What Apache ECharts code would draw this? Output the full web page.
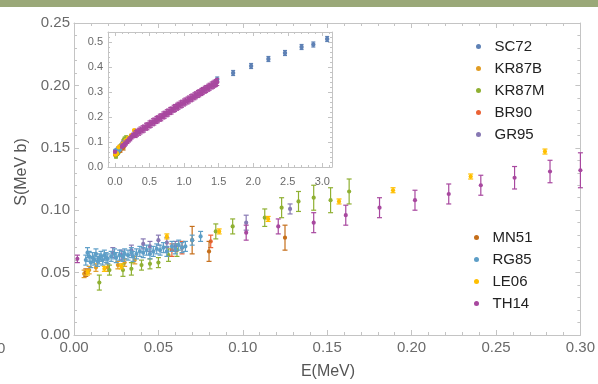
<!DOCTYPE html>
<html><head><meta charset="utf-8">
<script src="https://cdn.jsdelivr.net/npm/echarts@6/dist/echarts.min.js"></script>
<style>html,body{margin:0;padding:0;background:#fff}#c{width:598px;height:384px}</style>
</head><body><div id="c"></div>
<script>
// ---- data (E in MeV, S in MeV b, error) ----
const SC72_E = [1.48, 1.71, 1.97, 2.22, 2.46, 2.70, 2.87, 3.07];
const SC72_S = [0.350, 0.376, 0.404, 0.432, 0.456, 0.480, 0.490, 0.512];
const SC72_ERR = [0.010, 0.010, 0.010, 0.010, 0.010, 0.010, 0.010, 0.010];

const KR87B_E = [0.006, 0.009, 0.013, 0.020, 0.026, 0.030, 0.036];
const KR87B_S = [0.049, 0.052, 0.054, 0.054, 0.056, 0.058, 0.060];
const KR87B_ERR = [0.003, 0.003, 0.003, 0.003, 0.003, 0.003, 0.003];

const KR87M_E = [0.015, 0.021, 0.029, 0.034, 0.040, 0.045, 0.050, 0.056, 0.061, 0.084, 0.094, 0.113, 0.123, 0.133, 0.142, 0.152, 0.163];
const KR87M_S = [0.042, 0.052, 0.052, 0.053, 0.056, 0.057, 0.058, 0.064, 0.068, 0.083, 0.087, 0.094, 0.102, 0.107, 0.110, 0.108, 0.115];
const KR87M_ERR = [0.006, 0.004, 0.005, 0.005, 0.004, 0.004, 0.004, 0.005, 0.005, 0.006, 0.006, 0.007, 0.008, 0.008, 0.010, 0.010, 0.010];

const BR90_E = [0.058, 0.064, 0.081];
const BR90_S = [0.068, 0.070, 0.075];
const BR90_ERR = [0.005, 0.005, 0.005];

const GR95_E = [0.023, 0.028, 0.034, 0.041, 0.045, 0.050, 0.055, 0.060, 0.102, 0.128];
const GR95_S = [0.066, 0.064, 0.068, 0.073, 0.071, 0.076, 0.074, 0.071, 0.090, 0.101];
const GR95_ERR = [0.004, 0.004, 0.004, 0.004, 0.004, 0.004, 0.004, 0.004, 0.006, 0.004];

const MN51_E = [0.007, 0.070, 0.080, 0.125];
const MN51_S = [0.050, 0.076, 0.067, 0.078];
const MN51_ERR = [0.003, 0.011, 0.008, 0.010];

const RG85_E = [0.007, 0.008, 0.009, 0.010, 0.011, 0.012, 0.013, 0.014, 0.015, 0.016, 0.017, 0.018, 0.019, 0.020, 0.022, 0.024, 0.025, 0.027, 0.029, 0.030, 0.032, 0.034, 0.035, 0.037, 0.039, 0.041, 0.043, 0.045, 0.047, 0.049, 0.051, 0.053, 0.055, 0.058, 0.060, 0.062, 0.064, 0.066, 0.070, 0.075];
const RG85_S = [0.060, 0.066, 0.063, 0.058, 0.062, 0.060, 0.065, 0.059, 0.061, 0.063, 0.060, 0.064, 0.062, 0.061, 0.063, 0.065, 0.062, 0.064, 0.063, 0.065, 0.064, 0.066, 0.063, 0.065, 0.067, 0.066, 0.068, 0.065, 0.067, 0.069, 0.068, 0.070, 0.067, 0.071, 0.069, 0.072, 0.070, 0.071, 0.076, 0.079];
const RG85_ERR = [0.004, 0.004, 0.004, 0.004, 0.004, 0.004, 0.004, 0.004, 0.004, 0.004, 0.004, 0.004, 0.004, 0.004, 0.004, 0.004, 0.004, 0.004, 0.004, 0.004, 0.004, 0.004, 0.004, 0.004, 0.004, 0.004, 0.004, 0.004, 0.004, 0.004, 0.004, 0.004, 0.004, 0.004, 0.004, 0.004, 0.004, 0.004, 0.004, 0.004];

const LE06_E = [0.008, 0.018, 0.028, 0.055, 0.086, 0.115, 0.157, 0.189, 0.235, 0.279];
const LE06_S = [0.050, 0.053, 0.055, 0.079, 0.083, 0.093, 0.107, 0.116, 0.127, 0.147];
const LE06_ERR = [0.002, 0.002, 0.002, 0.002, 0.002, 0.002, 0.002, 0.002, 0.002, 0.002];

const TH14_E = [0.002, 0.102, 0.121, 0.142, 0.161, 0.181, 0.202, 0.222, 0.241, 0.261, 0.282,
  0.30,0.32,0.35,0.37,0.40,0.42,0.45,0.47,0.50,0.52,0.55,0.57,0.60,0.62,0.65,0.67,0.70,0.72,0.75,0.77,0.80,0.82,0.85,0.87,0.90,0.92,0.95,0.97,1.00,1.02,1.05,1.07,1.10,1.12,1.15,1.17,1.20,1.22,1.25,1.27,1.30,1.32,1.35,1.37,1.40,1.42,1.44,1.46,1.48];
const TH14_S = [0.061, 0.082, 0.087, 0.090, 0.096, 0.102, 0.108, 0.113, 0.120, 0.126, 0.131,
  0.132,0.137,0.141,0.146,0.151,0.154,0.161,0.163,0.170,0.173,0.179,0.182,0.188,0.191,0.197,0.199,0.206,0.209,0.215,0.218,0.224,0.226,0.233,0.236,0.241,0.245,0.250,0.253,0.258,0.262,0.266,0.270,0.275,0.278,0.283,0.287,0.292,0.295,0.300,0.304,0.309,0.312,0.317,0.321,0.326,0.329,0.333,0.336,0.340];
const TH14_ERR = [0.003, 0.006, 0.006, 0.008, 0.008, 0.008, 0.008, 0.008, 0.008, 0.009, 0.009,
  0.014,0.014,0.014,0.014,0.014,0.014,0.014,0.014,0.014,0.014,0.014,0.014,0.014,0.014,0.014,0.014,0.014,0.014,0.014,0.014,0.014,0.014,0.014,0.014,0.014,0.014,0.014,0.014,0.014,0.014,0.014,0.014,0.014,0.014,0.014,0.014,0.014,0.014,0.014,0.014,0.014,0.014,0.014,0.014,0.014,0.014,0.014,0.014,0.014];

const SERIES_NAMES = ['SC72','KR87B','KR87M','BR90','GR95','MN51','RG85','LE06','TH14'];
const LEGEND_TOP = ['SC72','KR87B','KR87M','BR90','GR95'];
const LEGEND_BOTTOM = ['MN51','RG85','LE06','TH14'];

// ---- styles ----
const COLORS = {SC72:'#5E81B5', KR87B:'#E19C24', KR87M:'#8FB032', BR90:'#EB6235', GR95:'#8778B3',
  MN51:'#C56E1A', RG85:'#5D9EC7', LE06:'#FFBF00', TH14:'#A8489F'};
const DATA = {
  SC72:[SC72_E,SC72_S,SC72_ERR], KR87B:[KR87B_E,KR87B_S,KR87B_ERR], KR87M:[KR87M_E,KR87M_S,KR87M_ERR],
  BR90:[BR90_E,BR90_S,BR90_ERR], GR95:[GR95_E,GR95_S,GR95_ERR], MN51:[MN51_E,MN51_S,MN51_ERR],
  RG85:[RG85_E,RG85_S,RG85_ERR], LE06:[LE06_E,LE06_S,LE06_ERR], TH14:[TH14_E,TH14_S,TH14_ERR]
};

function rows(name){ const d = DATA[name]; return d[0].map((e,i)=>[e, d[1][i], d[2][i]]); }

function makeRender(r, cw, lw){
  return function(params, api){
    const x = api.value(0), y = api.value(1), e = api.value(2);
    const p = api.coord([x, y]);
    const hi = api.coord([x, y + e]);
    const lo = api.coord([x, y - e]);
    const c = api.visual('color');
    const ls = {stroke: c, lineWidth: lw};
    return {type:'group', children:[
      {type:'line', shape:{x1:p[0], y1:hi[1], x2:p[0], y2:lo[1]}, style:ls},
      {type:'line', shape:{x1:p[0]-cw, y1:hi[1], x2:p[0]+cw, y2:hi[1]}, style:ls},
      {type:'line', shape:{x1:p[0]-cw, y1:lo[1], x2:p[0]+cw, y2:lo[1]}, style:ls},
      {type:'circle', shape:{cx:p[0], cy:p[1], r:r}, style:{fill:c}}
    ]};
  };
}

const FRAME = '#c4c4c4';
const LABEL = '#6a6a6a';
const FONT = '"Liberation Sans", Arial, sans-serif';

function frameAxis(opts){
  return Object.assign({
    type:'value', splitLine:{show:false},
    axisLine:{show:true, onZero:false, lineStyle:{color:FRAME, width:1}},
    axisTick:{show:true, inside:true, length:5, lineStyle:{color:FRAME}},
    minorTick:{show:true, splitNumber:5, length:3, lineStyle:{color:FRAME}},
  }, opts);
}

const series = [];
SERIES_NAMES.forEach(n => {
  series.push({name:n, type:'custom', xAxisIndex:0, yAxisIndex:0, renderItem:makeRender(2.1, 2.5, 1.2),
    itemStyle:{color:COLORS[n]}, encode:{x:0, y:1}, data: rows(n).filter(r => r[0] <= 0.3), z:2});
});
SERIES_NAMES.forEach(n => {
  series.push({name:n, type:'custom', xAxisIndex:2, yAxisIndex:2, renderItem:makeRender(2.2, 2, 1.2),
    itemStyle:{color:COLORS[n]}, encode:{x:0, y:1}, data: rows(n), z:3});
});

const chart = echarts.init(document.getElementById('c'), null, {renderer:'canvas'});
chart.setOption({
  animation:false,
  backgroundColor:'#fff',
  textStyle:{fontFamily:FONT},
  grid:[
    {left:74, top:23, width:509, height:312},
    {left:108, top:32, width:224, height:135, show:true, backgroundColor:'#fff', borderWidth:0}
  ],
  xAxis:[
    frameAxis({gridIndex:0, position:'bottom', min:0, max:0.3, interval:0.05,
      axisLabel:{margin:5, color:LABEL, fontSize:15, fontFamily:FONT, formatter:v=>v.toFixed(2)}}),
    frameAxis({gridIndex:0, position:'top', min:0, max:0.3, interval:0.05, axisLabel:{show:false}}),
    frameAxis({gridIndex:1, position:'bottom', min:-0.1, max:3.14, axisTick:{show:true, inside:true, length:4, lineStyle:{color:FRAME}},
      minorTick:{show:true, splitNumber:5, length:2, lineStyle:{color:FRAME}},
      axisLabel:{margin:9, color:LABEL, fontSize:11, fontFamily:FONT, showMinLabel:false, showMaxLabel:false, formatter:v=>v.toFixed(1)}}),
    frameAxis({gridIndex:1, position:'top', min:-0.1, max:3.14, axisTick:{show:true, inside:true, length:4, lineStyle:{color:FRAME}},
      minorTick:{show:true, splitNumber:5, length:2, lineStyle:{color:FRAME}}, axisLabel:{show:false}})
  ],
  yAxis:[
    frameAxis({gridIndex:0, position:'left', min:0, max:0.25, interval:0.05,
      axisLabel:{margin:4, color:LABEL, fontSize:15, fontFamily:FONT, formatter:v=>v.toFixed(2)}}),
    frameAxis({gridIndex:0, position:'right', min:0, max:0.25, interval:0.05, axisLabel:{show:false}}),
    frameAxis({gridIndex:1, position:'left', min:0, max:0.54, interval:0.1, axisTick:{show:true, inside:true, length:4, lineStyle:{color:FRAME}},
      minorTick:{show:true, splitNumber:5, length:2, lineStyle:{color:FRAME}},
      axisLabel:{margin:5, color:LABEL, fontSize:11, fontFamily:FONT, showMaxLabel:false, formatter:v=>v.toFixed(1)}}),
    frameAxis({gridIndex:1, position:'right', min:0, max:0.54, interval:0.1, axisTick:{show:true, inside:true, length:4, lineStyle:{color:FRAME}},
      minorTick:{show:true, splitNumber:5, length:2, lineStyle:{color:FRAME}}, axisLabel:{show:false}})
  ],
  legend:[
    {data:LEGEND_TOP, orient:'vertical', left:471, top:34, icon:'circle', itemWidth:22, itemHeight:5, itemGap:7,
      textStyle:{fontSize:15, lineHeight:15, color:'#222', fontFamily:FONT}, selectedMode:false},
    {data:LEGEND_BOTTOM, orient:'vertical', left:469, top:225, icon:'circle', itemWidth:22, itemHeight:5, itemGap:7,
      textStyle:{fontSize:15, lineHeight:15, color:'#222', fontFamily:FONT}, selectedMode:false}
  ],
  graphic:[
    {type:'rect', left:0, top:0, shape:{x:0, y:0, width:598, height:7}, style:{fill:'#9aa878'}, z:10},
    {type:'text', x:328, y:372, style:{text:'E(MeV)', fontSize:16, fontFamily:FONT, fill:'#555', align:'center', verticalAlign:'middle'}},
    {type:'text', x:22, y:172, rotation:Math.PI/2, style:{text:'S(MeV b)', fontSize:16, fontFamily:FONT, fill:'#555', align:'center', verticalAlign:'middle'}},
    {type:'text', x:-3, y:349, style:{text:'0', fontSize:15, fontFamily:FONT, fill:LABEL, align:'left', verticalAlign:'middle'}}
  ],
  series: series
});
</script></body></html>
